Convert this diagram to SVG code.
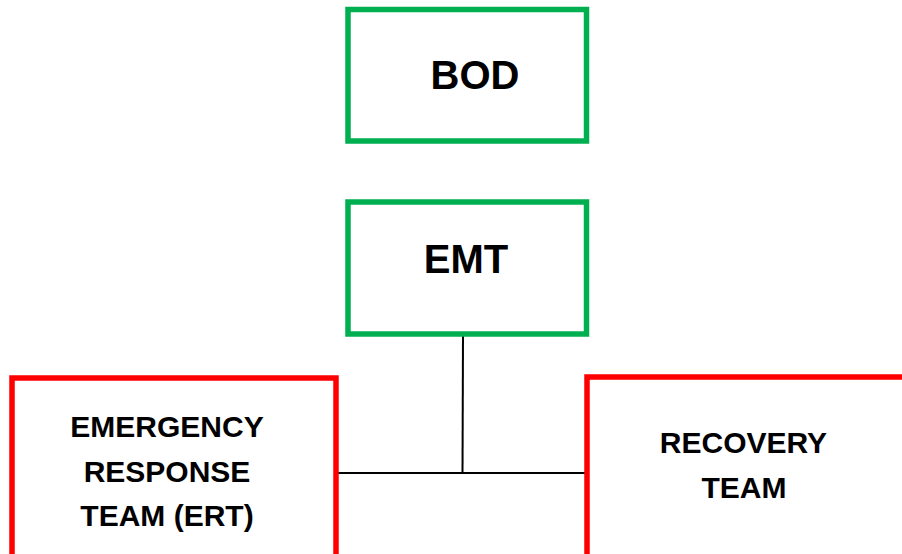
<svg xmlns="http://www.w3.org/2000/svg" width="902" height="554" viewBox="0 0 902 554">
<style>
.g{fill:#fff;stroke:#00B050;stroke-width:5.5}
.r{fill:#fff;stroke:#FF0000;stroke-width:5.5}
.t{font-family:"Liberation Sans",Arial,sans-serif;font-weight:bold;fill:#000;text-anchor:middle}
.big{font-size:40px}
.sm{font-size:30px}
.c{stroke:#000;stroke-width:2;fill:none}
</style>
<rect width="902" height="554" fill="#fff"/>
<g id="connectors">
<line class="c" x1="463" y1="335" x2="462.5" y2="473"/>
<line class="c" x1="337" y1="473" x2="587" y2="473"/>
</g>
<g id="bod">
<rect class="g" x="348" y="9.5" width="238.5" height="131.5"/>
<text class="t big" x="475" y="89">BOD</text>
</g>
<g id="emt">
<rect class="g" x="348" y="202" width="238.5" height="132"/>
<text class="t big" x="466" y="273">EMT</text>
</g>
<g id="ert">
<rect class="r" x="12" y="378" width="324" height="200"/>
<text class="t sm" x="167" y="437">EMERGENCY</text>
<text class="t sm" x="167" y="482">RESPONSE</text>
<text class="t sm" x="167" y="526">TEAM (ERT)</text>
</g>
<g id="recovery">
<rect class="r" x="587" y="377" width="340" height="200"/>
<text class="t sm" x="743.5" y="453">RECOVERY</text>
<text class="t sm" x="744" y="498">TEAM</text>
</g>
</svg>
